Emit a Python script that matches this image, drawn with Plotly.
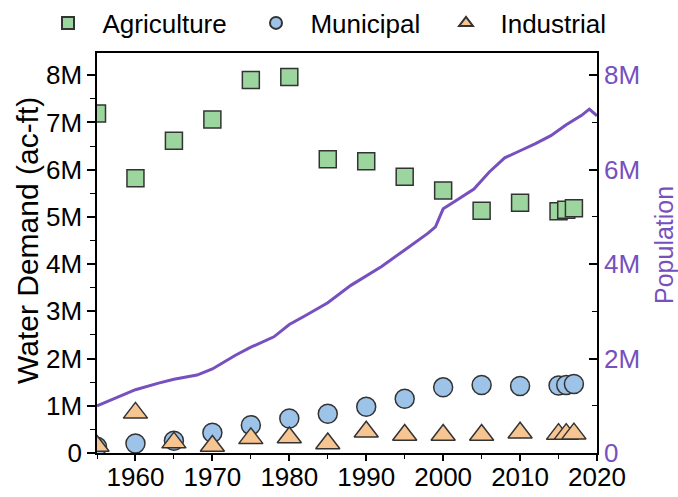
import plotly.graph_objects as go

years = [1955, 1960, 1965, 1970, 1975, 1980, 1985, 1990, 1995, 2000, 2005, 2010, 2015, 2016, 2017]
agriculture = [7.19, 5.82, 6.61, 7.06, 7.90, 7.96, 6.22, 6.18, 5.85, 5.56, 5.13, 5.30, 5.12, 5.15, 5.18]
municipal = [0.13, 0.20, 0.26, 0.43, 0.59, 0.73, 0.83, 0.98, 1.15, 1.39, 1.44, 1.42, 1.43, 1.44, 1.46]
industrial = [0.15, 0.85, 0.22, 0.15, 0.31, 0.33, 0.20, 0.45, 0.38, 0.38, 0.38, 0.43, 0.40, 0.40, 0.41]

pop_years = [1955, 1958, 1960, 1963, 1965, 1968, 1970, 1973, 1975, 1978, 1980, 1982, 1985, 1988,
             1990, 1992, 1995, 1998, 1999, 2000, 2002, 2004, 2006, 2008, 2010, 2012, 2014, 2016,
             2018, 2019, 2020]
population = [1.00, 1.20, 1.34, 1.48, 1.56, 1.65, 1.78, 2.07, 2.24, 2.46, 2.72, 2.90, 3.18, 3.55,
              3.75, 3.95, 4.30, 4.65, 4.79, 5.17, 5.38, 5.59, 5.95, 6.25, 6.40, 6.55, 6.72, 6.95,
              7.15, 7.28, 7.14]

left_tickvals = [0, 1, 2, 3, 4, 5, 6, 7, 8]
left_ticktext = ["0", "1M", "2M", "3M", "4M", "5M", "6M", "7M", "8M"]
right_tickvals = [0, 2, 4, 6, 8]
right_ticktext = ["0", "2M", "4M", "6M", "8M"]
x_tickvals = [1960, 1970, 1980, 1990, 2000, 2010, 2020]

M = 1e6
FONT = "Liberation Sans, Arial, sans-serif"
PURPLE = "#7650BF"
EDGE = "#333333"
SP = "\u00a0\u00a0"

fig = go.Figure()
fig.add_trace(go.Scatter(
    x=pop_years, y=[v * M for v in population], yaxis="y2", mode="lines",
    line=dict(color=PURPLE, width=3), showlegend=False, name="Population"))
fig.add_trace(go.Scatter(
    x=years, y=[v * M for v in agriculture], mode="markers", name=SP + "Agriculture",
    legend="legend",
    marker=dict(symbol="square", size=17, color="#9DD59F", line=dict(color=EDGE, width=1.5))))
fig.add_trace(go.Scatter(
    x=years, y=[v * M for v in municipal], mode="markers", name=SP + "Municipal",
    legend="legend2",
    marker=dict(symbol="circle", size=19, color="#9DC3E8", line=dict(color=EDGE, width=1.5))))
fig.add_trace(go.Scatter(
    x=years, y=[v * M for v in industrial], mode="markers", name=SP + "Industrial",
    legend="legend3",
    marker=dict(symbol="triangle-up", size=21, color="#F7C592", line=dict(color=EDGE, width=1.5))))

def leg(xpos):
    return dict(orientation="h", x=xpos, xanchor="left", y=1.075, yanchor="middle",
                font=dict(size=26), bgcolor="rgba(0,0,0,0)", itemsizing="constant",
                borderwidth=0)

yr = [0, 8.47 * M]
fig.update_layout(
    width=678, height=497,
    margin=dict(l=97, r=81, t=53, b=44, autoexpand=False),
    paper_bgcolor="white", plot_bgcolor="white",
    font=dict(family=FONT, size=26, color="black"),
    legend=leg(-0.098), legend2=leg(0.318), legend3=leg(0.698),
    xaxis=dict(range=[1955, 2020], tickvals=x_tickvals, showgrid=False, zeroline=False,
               showline=True, linecolor="black", linewidth=1.5, mirror=True,
               ticks="outside", ticklen=6, tickwidth=1.5, tickcolor="black",
               minor=dict(dtick=5, tick0=1955, ticks="outside", ticklen=4, tickcolor="black", tickwidth=1.2),
               tickfont=dict(size=26), ticklabelstandoff=-6),
    yaxis=dict(range=yr, tickvals=[v * M for v in left_tickvals], ticktext=left_ticktext,
               showgrid=False, zeroline=False, showline=True, linecolor="black", linewidth=1.5,
               ticks="outside", ticklen=8, tickwidth=1.5, tickcolor="black",
               minor=dict(dtick=0.5 * M, tick0=0, ticks="outside", ticklen=5, tickcolor="black", tickwidth=1.2),
               tickfont=dict(size=26), automargin=False),
    yaxis2=dict(range=yr, overlaying="y", side="right",
                tickvals=[v * M for v in right_tickvals], ticktext=right_ticktext,
                showgrid=False, zeroline=False, showline=True, linecolor="black", linewidth=1.5,
                ticks="inside", ticklen=8, tickwidth=1.5, tickcolor="black",
                minor=dict(dtick=1 * M, tick0=0, ticks="inside", ticklen=5, tickcolor="black", tickwidth=1.2),
                tickfont=dict(size=26, color=PURPLE), automargin=False),
    annotations=[
        dict(text="Water Demand (ac-ft)", xref="paper", yref="paper", x=-0.14, y=0.53,
             xanchor="center", yanchor="middle", textangle=-90, showarrow=False,
             font=dict(size=30, color="black")),
        dict(text="Population", xref="paper", yref="paper", x=1.134, y=0.52,
             xanchor="center", yanchor="middle", textangle=-90, showarrow=False,
             font=dict(size=25, color=PURPLE)),
    ],
)

fig.write_html("out.html", post_script="document.body.style.margin='0';",
               config={"displayModeBar": False})
